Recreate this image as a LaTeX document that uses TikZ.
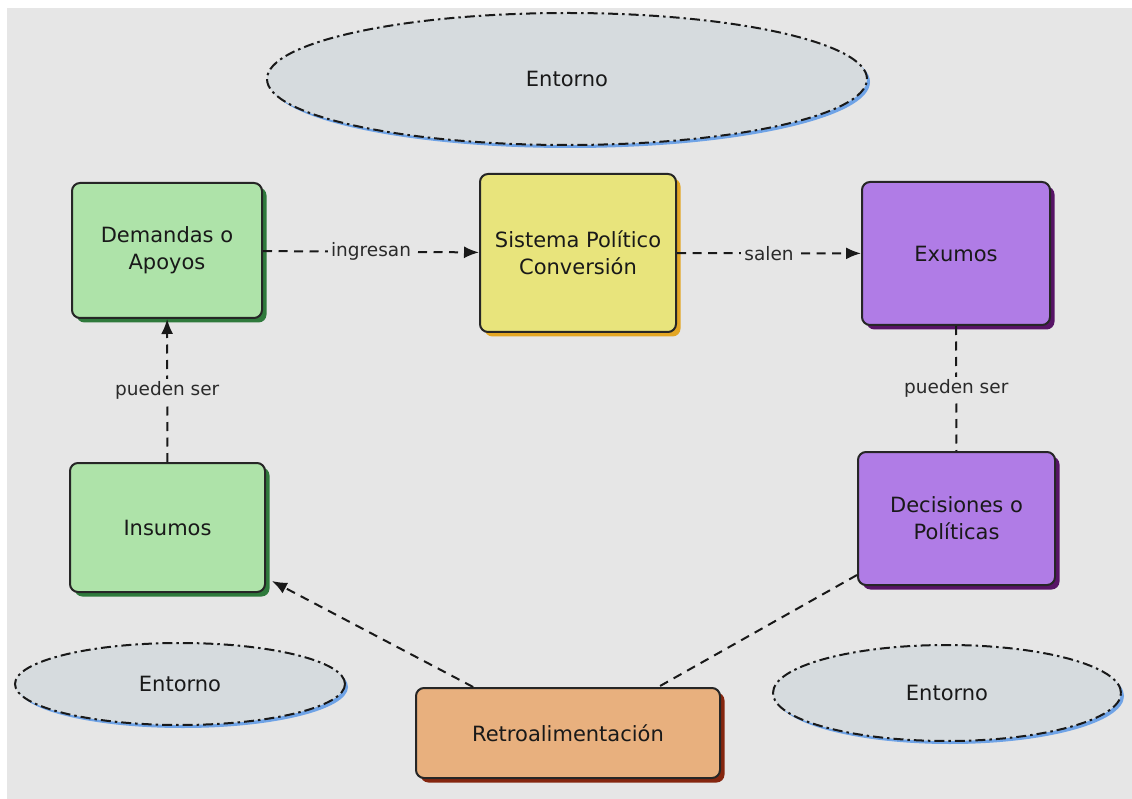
\documentclass[tikz,border=0pt]{standalone}
\usepackage{fontspec}
\setmainfont{DejaVu Sans}
\usetikzlibrary{arrows.meta,shadows,calc,shapes.geometric}

\definecolor{panel}{HTML}{E6E6E6}
\definecolor{envfill}{HTML}{D6DBDE}
\definecolor{envshadow}{HTML}{6FA3E6}
\definecolor{greenfill}{HTML}{AEE3A9}
\definecolor{greenshadow}{HTML}{2F7A3C}
\definecolor{yellowfill}{HTML}{E8E47C}
\definecolor{yellowshadow}{HTML}{E3A624}
\definecolor{purplefill}{HTML}{B07CE6}
\definecolor{purpleshadow}{HTML}{571466}
\definecolor{orangefill}{HTML}{E8B07E}
\definecolor{orangeshadow}{HTML}{85260F}
\definecolor{labeltext}{HTML}{2A2A2A}

\tikzset{
  conceptbox/.style={draw=black!85, line width=2pt, rounded corners=8pt,
    align=center, font=\fontsize{21}{27}\selectfont, text=black!90,
    inner sep=4pt},
  greenbox/.style={conceptbox, fill=greenfill,
    drop shadow={shadow xshift=4.5pt, shadow yshift=-4.5pt, fill=greenshadow, opacity=1}},
  yellowbox/.style={conceptbox, fill=yellowfill,
    drop shadow={shadow xshift=4.5pt, shadow yshift=-4.5pt, fill=yellowshadow, opacity=1}},
  purplebox/.style={conceptbox, fill=purplefill,
    drop shadow={shadow xshift=4.5pt, shadow yshift=-4.5pt, fill=purpleshadow, opacity=1}},
  orangebox/.style={conceptbox, fill=orangefill,
    drop shadow={shadow xshift=4.5pt, shadow yshift=-4.5pt, fill=orangeshadow, opacity=1}},
  envnode/.style={ellipse, draw=black!90, line width=2pt, fill=envfill,
    dash pattern=on 10pt off 4pt on 2.5pt off 4pt,
    font=\fontsize{21}{27}\selectfont, text=black!90,
    drop shadow={shadow xshift=3pt, shadow yshift=-3pt, fill=envshadow, opacity=1}},
  link/.style={line width=2pt, black!90, dash pattern=on 9pt off 6.5pt},
  arrowlink/.style={link, -{Latex[length=15pt,width=12pt]}},
  linklabel/.style={fill=panel, inner sep=3pt, text=labeltext,
    font=\fontsize{18.5}{22}\selectfont},
}

\begin{document}
\begin{tikzpicture}[x=1pt, y=-1pt]
  \useasboundingbox (0,0) rectangle (1132,799);
  \fill[white] (0,0) rectangle (1132,799);
  \fill[panel] (7,8) rectangle (1132,799);

  % environment ellipses
  \node[envnode, minimum width=600pt, minimum height=132pt] (envtop) at (567,79) {Entorno};
  \node[envnode, minimum width=330pt, minimum height=82pt] (envleft) at (180,684) {Entorno};
  \node[envnode, minimum width=348pt, minimum height=96pt] (envright) at (947,693) {Entorno};

  % concept boxes
  \node[greenbox, minimum width=190pt, minimum height=135pt] (dem) at (167,250.5) {Demandas o\\Apoyos};
  \node[yellowbox, minimum width=196pt, minimum height=158pt] (sis) at (578,253) {Sistema Político\\Conversión};
  \node[purplebox, minimum width=188pt, minimum height=143pt] (exu) at (956,253.5) {Exumos};
  \node[greenbox, minimum width=195pt, minimum height=129pt] (ins) at (167.5,527.5) {Insumos};
  \node[purplebox, minimum width=197pt, minimum height=133pt] (dec) at (956.5,518.5) {Decisiones o\\Políticas};
  \node[orangebox, minimum width=304pt, minimum height=90pt] (ret) at (568,733) {Retroalimentación};

  % anchor points on the feedback box and its neighbours
  \coordinate (retL) at ($(ret.north west)!0.19!(ret.north east)$);
  \coordinate (retR) at ($(ret.north west)!0.795!(ret.north east)$);
  \coordinate (insIn) at ([xshift=6pt,yshift=12pt]ins.south east);
  \coordinate (decOut) at ([yshift=11pt]dec.south west);

  % connectors
  \draw[arrowlink] (dem) -- node[linklabel] {ingresan} (sis);
  \draw[arrowlink] (sis) -- node[linklabel] {salen} (exu);
  \draw[arrowlink] (ins) -- node[linklabel] {pueden ser} (dem);
  \draw[link] (exu) -- node[linklabel] {pueden ser} (dec);
  \draw[arrowlink] (retL) -- (insIn);
  \draw[link] (decOut) -- (retR);
\end{tikzpicture}
\end{document}
